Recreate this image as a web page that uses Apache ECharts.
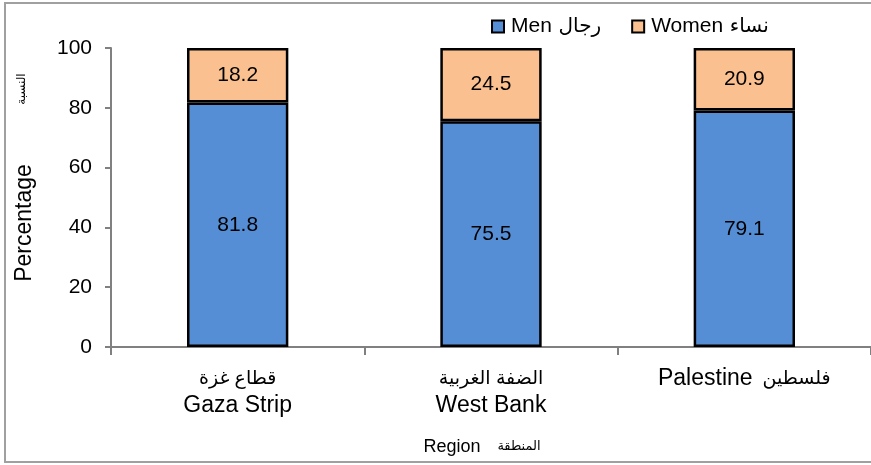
<!DOCTYPE html>
<html>
<head>
<meta charset="utf-8">
<script src="https://cdn.jsdelivr.net/npm/echarts@6/dist/echarts.min.js"></script>
<style>html,body{margin:0;padding:0;background:#fff}#c{width:871px;height:465px}</style>
</head>
<body>
<div id="c"></div>
<script>
var categoriesAr = ['قطاع غزة', 'الضفة الغربية', 'فلسطين'];
var categoriesEn = ['Gaza Strip', 'West Bank', 'Palestine'];
var menValues = [81.8, 75.5, 79.1];
var womenValues = [18.2, 24.5, 20.9];
var seriesEn = ['Men', 'Women'];
var seriesAr = ['رجال', 'نساء'];
var yTicks = { min: 0, max: 100, interval: 20 };

var FONT = '"Liberation Sans", Arial, "DejaVu Sans", sans-serif';
var chart = echarts.init(document.getElementById('c'));
chart.setOption({
  animation: false,
  textStyle: { fontFamily: FONT },
  graphic: [
    { type: 'rect', shape: { x: 5, y: 3, width: 900, height: 459 }, style: { fill: 'none', stroke: '#a0a0a0', lineWidth: 2 }, z: -1 },
    { type: 'text', x: 25, y: 223, rotation: Math.PI / 2, style: { text: 'Percentage', font: '23px ' + FONT, fill: '#000', align: 'center', verticalAlign: 'middle' } },
    { type: 'text', x: 22, y: 89, rotation: Math.PI / 2, style: { text: 'النسبة', font: '12px ' + FONT, fill: '#000', align: 'center', verticalAlign: 'middle' } },
    { type: 'text', x: 452, y: 447, style: { text: 'Region', font: '18px ' + FONT, fill: '#000', align: 'center', verticalAlign: 'middle' } },
    { type: 'text', x: 519, y: 446, style: { text: 'المنطقة', font: '13px ' + FONT, fill: '#000', align: 'center', verticalAlign: 'middle' } }
  ],
  legend: {
    top: 11, left: 486,
    itemWidth: 12, itemHeight: 12, itemGap: 30,
    icon: 'rect',
    itemStyle: { borderColor: '#000', borderWidth: 2 },
    formatter: function (name) {
      var i = seriesEn.indexOf(name);
      return '{en|' + name + '}  {ar|' + seriesAr[i] + '}';
    },
    textStyle: {
      color: '#000', fontFamily: FONT, padding: [0, 0, 0, 2],
      rich: { en: { fontSize: 21, fontFamily: FONT }, ar: { fontSize: 20, fontFamily: FONT } }
    },
    data: seriesEn
  },
  grid: { left: 111, right: -1, top: 48, bottom: 118, containLabel: false },
  xAxis: {
    type: 'category',
    data: categoriesEn,
    axisLine: { lineStyle: { color: '#808080', width: 2 } },
    axisTick: { show: true, length: 8, lineStyle: { color: '#808080', width: 2 } },
    axisLabel: {
      color: '#000', margin: 18, fontFamily: FONT, interval: 0,
      formatter: function (v, idx) {
        if (idx === 2) return '{en|' + v + '}   {ar|' + categoriesAr[idx] + '}';
        return '{ar|' + categoriesAr[idx] + '}\n{en|' + v + '}';
      },
      rich: {
        en: { fontSize: 23, lineHeight: 27, fontFamily: FONT },
        ar: { fontSize: 19, lineHeight: 27, fontFamily: FONT }
      }
    }
  },
  yAxis: {
    type: 'value',
    min: yTicks.min, max: yTicks.max, interval: yTicks.interval,
    splitLine: { show: false },
    axisLine: { show: true, lineStyle: { color: '#808080', width: 2 } },
    axisTick: { show: true, length: 6, lineStyle: { color: '#808080', width: 2 } },
    axisLabel: { fontSize: 21, color: '#000', margin: 19, fontFamily: FONT }
  },
  series: [
    {
      name: seriesEn[0], type: 'bar', stack: 's', data: menValues, barWidth: '40%',
      itemStyle: { color: '#558ED5', borderColor: '#000', borderWidth: 2.5 },
      label: { show: true, position: 'inside', fontSize: 21, color: '#000', fontFamily: FONT, formatter: function (p) { return p.value.toFixed(1); } }
    },
    {
      name: seriesEn[1], type: 'bar', stack: 's', data: womenValues, barWidth: '40%',
      itemStyle: { color: '#FAC090', borderColor: '#000', borderWidth: 2.5 },
      label: { show: true, position: 'inside', fontSize: 21, color: '#000', fontFamily: FONT, formatter: function (p) { return p.value.toFixed(1); } }
    }
  ]
});
</script>
</body>
</html>
